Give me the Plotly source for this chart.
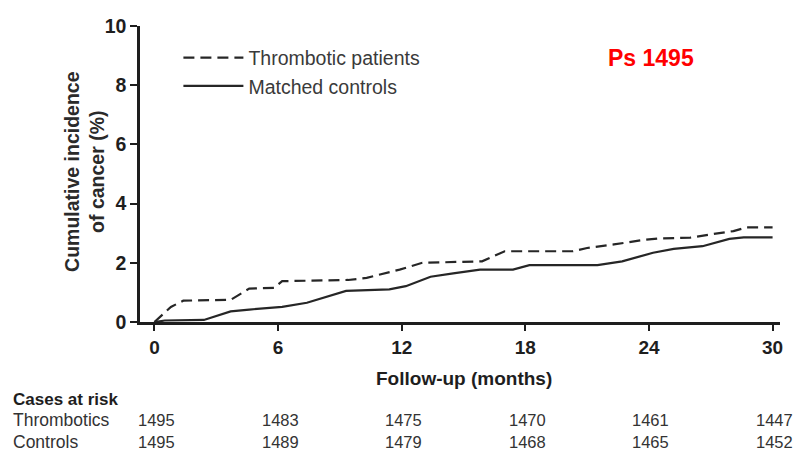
import plotly.graph_objects as go

# ---- data ----
months_thromb = [0, 0.8, 1.4, 3.7, 4.2, 4.6, 5.8, 6.2, 9.4, 10.3, 11.9, 13.0, 15.9, 17.0, 20.3,
                 21.0, 22.3, 23.6, 24.4, 26.0, 27.0, 28.1, 28.75, 30]
inc_thromb = [0, 0.51, 0.72, 0.75, 0.96, 1.13, 1.15, 1.38, 1.42, 1.49, 1.77, 2.0, 2.05, 2.39, 2.39,
              2.5, 2.62, 2.76, 2.82, 2.85, 2.96, 3.07, 3.2, 3.2]

months_ctrl = [0, 0.5, 2.4, 3.7, 4.6, 6.2, 7.4, 8.4, 9.3, 10.0, 11.4, 12.2, 13.4, 14.5, 15.8,
               17.4, 18.2, 21.5, 22.7, 24.2, 25.2, 26.6, 27.9, 28.6, 30]
inc_ctrl = [0, 0.05, 0.07, 0.36, 0.42, 0.51, 0.65, 0.87, 1.05, 1.07, 1.1, 1.21, 1.53, 1.64, 1.77,
            1.77, 1.92, 1.92, 2.05, 2.34, 2.47, 2.56, 2.81, 2.86, 2.86]

x_ticks = [0, 6, 12, 18, 24, 30]
y_ticks = [0, 2, 4, 6, 8, 10]
risk_months = [0, 6, 12, 18, 24, 30]
risk_thromb = [1495, 1483, 1475, 1470, 1461, 1447]
risk_ctrl = [1495, 1489, 1479, 1468, 1465, 1452]

FONT = "Liberation Sans, Arial, sans-serif"
INK = "#1e1e1e"

fig = go.Figure()
fig.add_trace(go.Scatter(x=months_thromb, y=inc_thromb, mode="lines",
                         name="Thrombotic patients",
                         line=dict(color="#262626", width=2.2, dash="11px,6px")))
fig.add_trace(go.Scatter(x=months_ctrl, y=inc_ctrl, mode="lines",
                         name="Matched controls",
                         line=dict(color="#262626", width=2.2)))

ann = []
# axis titles
ann.append(dict(text="<b>Follow-up (months)</b>", x=15, xref="x", y=-0.19, yref="paper",
                showarrow=False, font=dict(size=19, color=INK, family=FONT),
                xanchor="center", yanchor="middle"))
ann.append(dict(text="<b>Cumulative incidence<br>of cancer (%)</b>", x=-0.087, xref="paper",
                y=0.508, yref="paper", textangle=-90, showarrow=False,
                font=dict(size=19.5, color="#2a2a2a", family=FONT),
                xanchor="center", yanchor="middle"))
# red label
ann.append(dict(text="<b>Ps 1495</b>", x=0.798, xref="paper", y=0.892, yref="paper",
                showarrow=False, font=dict(size=23, color="#ff0000", family=FONT),
                xanchor="center", yanchor="middle"))
# risk table
ann.append(dict(text="<b>Cases at risk</b>", x=-0.2016, xref="paper", y=-0.261, yref="paper",
                showarrow=False, font=dict(size=17, color=INK, family=FONT),
                xanchor="left", yanchor="middle"))
ann.append(dict(text="Thrombotics", x=-0.2016, xref="paper", y=-0.331, yref="paper",
                showarrow=False, font=dict(size=17.5, color="#333333", family=FONT),
                xanchor="left", yanchor="middle"))
ann.append(dict(text="Controls", x=-0.2016, xref="paper", y=-0.407, yref="paper",
                showarrow=False, font=dict(size=17.5, color="#333333", family=FONT),
                xanchor="left", yanchor="middle"))
for m, a, b in zip(risk_months, risk_thromb, risk_ctrl):
    ann.append(dict(text=str(a), x=m, xref="x", y=-0.331, yref="paper", xshift=2,
                    showarrow=False, font=dict(size=16.5, color="#333333", family=FONT),
                    xanchor="center", yanchor="middle"))
    ann.append(dict(text=str(b), x=m, xref="x", y=-0.407, yref="paper", xshift=2,
                    showarrow=False, font=dict(size=16.5, color="#333333", family=FONT),
                    xanchor="center", yanchor="middle"))

fig.update_layout(
    width=797, height=454,
    margin=dict(l=140, r=17, t=26, b=131.5, pad=0),
    paper_bgcolor="white", plot_bgcolor="white",
    font=dict(family=FONT, color=INK),
    showlegend=True,
    legend=dict(x=0.06, y=0.958, xanchor="left", yanchor="top",
                bgcolor="rgba(0,0,0,0)", borderwidth=0,
                font=dict(size=19.5, color="#3a3a3a", family=FONT),
                itemwidth=60, tracegroupgap=0),
    annotations=ann,
    xaxis=dict(range=[-0.7, 30.36], tickmode="array", tickvals=x_ticks,
               ticktext=[f"<b>{t}</b>" for t in x_ticks],
               showgrid=False, zeroline=False, showline=True, linecolor=INK, linewidth=2.5,
               ticks="outside", ticklen=6, tickwidth=2, tickcolor=INK,
               tickfont=dict(size=19, color=INK, family=FONT), fixedrange=True),
    yaxis=dict(range=[0, 10], tickmode="array", tickvals=y_ticks,
               ticktext=[f"<b>{t}</b>" for t in y_ticks],
               showgrid=False, zeroline=False, showline=True, linecolor=INK, linewidth=2.5,
               ticks="outside", ticklen=7, tickwidth=2, tickcolor=INK,
               tickfont=dict(size=19.5, color=INK, family=FONT), fixedrange=True),
)

fig.write_html("out.html")
